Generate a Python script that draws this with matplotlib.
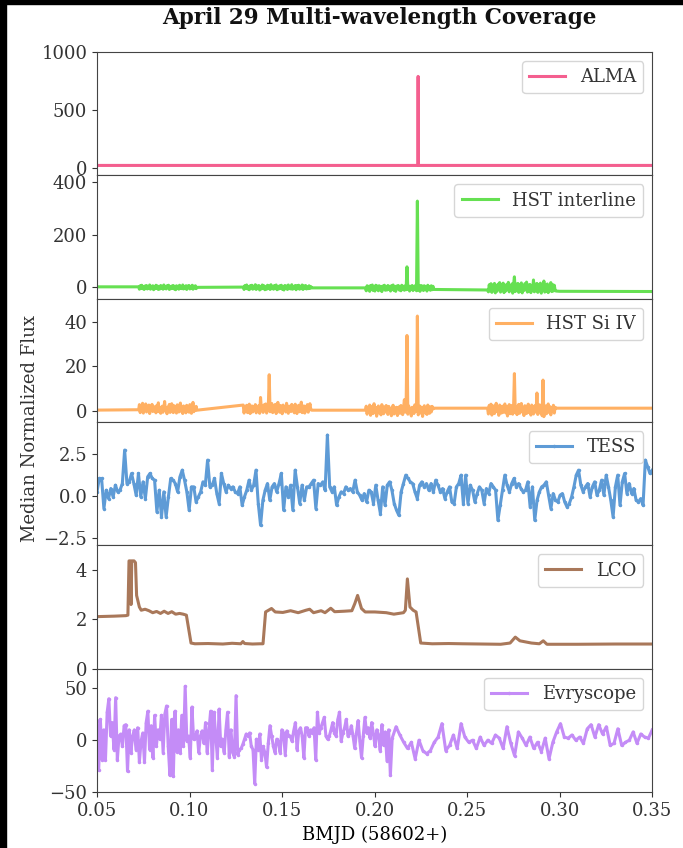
import numpy as np
import matplotlib
matplotlib.use('Agg')
import matplotlib.pyplot as plt
from matplotlib.patches import Rectangle

plt.rcParams['font.family'] = ['DejaVu Serif']
plt.rcParams['font.size'] = 13
plt.rcParams['text.color'] = '#333333'
plt.rcParams['xtick.color'] = '#333333'
plt.rcParams['ytick.color'] = '#333333'
plt.rcParams['axes.edgecolor'] = '#444444'

# ---- ALMA ----
alma_time = [0.04, 0.2234, 0.2235, 0.2236, 0.36]
alma_flux = [25, 25, 790, 25, 25]

# ---- HST observing windows (start, end) ----
hst_windows = [(0.0725, 0.104), (0.129, 0.166), (0.195, 0.232), (0.261, 0.298)]

# HST interline flux in each window
hst_int_1 = [2, -7, 6, -3, 8, -5, 1, -8, 5, -2, 7, -6, 3, -4, 9,
             -7, 4, -1, 6, -9, 2, -5, 8, -3, 5, -8, 1, -6, 7, -2,
             4, -7, 9, -4, 3, -6, 6, -1, 8, -8, 2, -5, 5, -3, 7,
             -6, 1, -9, 6, -2, 4, -7, 8, -4, 3, -5, 9, -6, 2, -3,
             6, -8, 5, -1, 7, -6, 3, -4, 8, -7, 4, -2, 6, -5, 0]
hst_int_2 = [1, -8, 7, -4, 9, -6, 3, -9, 6, -2, 8, -7, 4, -5, 10,
             -8, 5, -3, 7, -10, 2, -6, 9, -4, 6, -9, 1, -7, 8, -3,
             5, -8, 10, -5, 4, -7, 7, -2, 9, -9, 3, -6, 6, -4, 8,
             -7, 2, -10, 7, -3, 5, -8, 9, -5, 4, -6, 10, -7, 3, -4,
             7, -9, 6, -2, 8, -7, 4, -5, 9, -8, 5, -3, 7, -6, 1,
             -5, 6, -4, 3, -2]
hst_int_3 = [-2, -13, 6, -9, 4, -15, 7, -6, 9, -12, 2, -14, 8, -5, 5,
             -13, 6, -9, 3, -16, 5, -4, 8, -11, 1, -10, 7, -7, 4, -14,
             6, -8, 9, -12, 3, -15, 5, -3, 7, -10, 2, -13, 8, -6, 4,
             -11, 6, -9, 78, -7, 5, -14, 4, -8, 7, -12, 3, -6, 8, -13,
             328, -10, 4, -15, 7, -9, 5, -12, 6, -8, 3, -14, 8, -5, 2,
             -11, 6, -9, 4, -8]
hst_int_4 = [-10, -17, 10, -13, 14, -19, 8, -9, 15, -21, 6, -15, 12, -7, 18,
             -18, 9, -12, 16, -20, 5, -14, 11, -8, 19, -17, 7, -11, 13, -22,
             10, 40, -16, 12, -10, 15, -19, 8, -13, 17, -21, 6, -12, 14, -9,
             20, -18, 9, -14, 11, -20, 7, -10, 28, -17, 12, -13, 15, -19, 8,
             -11, 16, -22, 10, -8, 24, -18, 9, -15, 13, -20, 6, -12, 18, -16,
             11, -14, 8, -12, -14]
hst_int_edges = [(0.045, 2), (0.30, -15), (0.36, -16)]

# HST Si IV flux in each window
hst_si_1 = [0.5, 2.8, -0.8, 1.9, 0.2, 3.4, -1.0, 2.2, 0.6, 3.1, -0.5, 1.5, 0.1, 2.6, -1.2,
            1.8, 0.4, 2.9, -0.3, 2.0, 0.4, 1.2, -0.9, 2.4, 0.0, 3.6, -0.4, 1.6, -1.1, 0.8,
            2.1, -0.6, 1.3, 4.2, 0.2, 0.9, -1.3, 1.7, 0.3, 2.9, -0.7, 1.1, 3.2, 0.5, -0.8,
            2.3, 0.1, 1.4, -1.0, 2.7, 0.6, -0.5, 1.9, 3.5, -0.2, 1.0, -1.2, 2.2, 0.4, 1.6,
            -0.9, 2.5, 0.0, 1.3, -0.6, 2.8, 0.7, -1.1, 1.5, 3.8, -0.4, 1.2, 0.2, 2.0, 0.3]
hst_si_2 = [2.6, -1.0, 1.8, 0.3, 2.5, -0.8, 1.4, 3.0, -1.2, 0.9, 2.2, -0.5, 1.7, 0.2, 2.8,
            -0.9, 1.5, 0.4, 2.4, -1.1, 6.0, 0.6, 1.9, -0.7, 2.7, 0.1, 3.1, -1.0, 1.3, 2.3,
            16.2, -0.4, 1.0, 3.3, -0.8, 2.0, 0.5, 2.9, -1.2, 1.6, 3.8, 0.2, -0.6, 2.4, 1.1,
            -1.3, 2.6, 0.3, 1.8, -0.5, 3.4, 0.8, -1.1, 2.1, 1.2, -0.3, 2.9, 0.0, 1.5, -0.9,
            3.0, 0.6, -1.2, 1.9, 2.5, -0.4, 1.3, 3.9, -0.8, 0.9, 2.2, -1.0, 1.7, 0.4, 2.8,
            -0.6, 1.4, 3.2, 0.5, 0.3]
hst_si_3 = [0.3, 2.1, -1.5, 1.2, -0.4, 2.6, -2.0, 0.8, 1.9, -1.2, 3.2, -0.6, 1.5, -2.4, 0.9,
            2.2, -1.0, 1.4, -1.8, 2.8, 0.1, -1.3, 1.7, -0.5, 2.4, 0.6, -1.6, 2.0, -0.8, 1.1,
            -2.2, 0.7, 2.5, -1.4, 1.3, -0.9, 1.6, -2.1, 0.5, 1.8, -1.1, 2.4, 0.4, -1.7, 1.2,
            5.0, -0.6, 1.9, 33.8, -1.5, 2.2, -0.7, 1.0, -2.3, 1.6, 0.3, -1.2, 2.7, -0.4, 1.4,
            42.5, -1.8, 0.9, 2.1, -1.0, 1.5, -2.5, 0.6, 2.3, -0.9, 1.2, -1.6, 2.6, 0.2, -1.1,
            1.8, -0.5, 2.0, 0.8, 1.2]
hst_si_4 = [1.2, -1.4, 2.5, -0.6, 3.0, -1.9, 1.1, 2.2, -1.2, 0.8, 3.4, -0.4, 1.7, -2.0, 2.6,
            0.3, -1.0, 2.1, -0.7, 1.4, 3.1, -0.9, 1.9, -2.3, 0.6, 2.8, -1.3, 1.0, 2.4, -1.5,
            1.2, 16.7, -0.8, 2.0, -1.7, 1.5, 2.9, -1.1, 0.9, 3.3, -0.5, 1.6, -2.1, 2.3, 0.4,
            -1.2, 1.8, 3.0, -0.8, 1.1, -1.9, 2.6, 0.2, -1.4, 1.7, 2.4, -0.6, 8.0, -1.6, 1.3,
            2.7, -0.9, 1.0, -2.2, 13.8, -2.6, 1.4, 2.2, -1.3, 0.7, 3.1, -0.7, 1.9, -1.8, 1.5,
            0.3, 2.5, -1.0, 1.6, 1.2]
hst_si_edges = [(0.045, 0.3), (0.30, 1.2), (0.36, 1.2)]

# ---- TESS (2-min cadence, 0.05 - 0.35) ----
tess_flux = [0.26, 1.06, 1.06, -0.74, 0.36, -0.14, 0.46, -0.04, 0.66, 0.26, 0.36, 0.76, 2.76, 0.76,
             0.86, 1.36, 0.76, 0.06, 1.36, -0.04, 0.86, -0.14, 1.16, 1.36, 1.06, 0.96, -0.94, 0.36,
             -1.24, 0.26, -1.24, -0.04, 1.06, 0.96, 0.76, 0.26, 1.16, 1.56, 0.96, 0.26, -0.84, 0.56,
             0.56, -0.34, -0.04, 0.26, 0.86, 0.66, 2.16, 0.56, 0.66, 1.06, 0.16, -0.44, 1.36, 0.76,
             0.26, 0.66, 0.46, 0.56, 0.26, 0.16, 0.56, -0.54, -0.04, 0.36, 0.96, 0.36, 0.66, 1.56,
             -0.44, -1.74, -0.24, 0.36, 0.76, -0.24, 0.56, 0.76, 0.26, 0.76, 1.36, -0.84, 0.56, -0.04,
             0.66, -0.84, 1.56, 0.56, -0.44, 0.66, -0.24, 0.56, 0.56, 0.76, 0.96, -0.74, 0.76, 0.66,
             0.86, 0.36, 3.66, 0.56, 0.26, 0.56, -0.54, -0.04, 0.26, 0.16, 0.56, 0.36, 0.46, 0.26,
             0.96, 0.26, 0.06, -0.24, 0.16, -0.34, 0.36,
             0.26, -0.44, 0.66, -0.24, -1.04, 0.56, -0.54, 0.66, 0.86, 0.36, -0.44, -0.84, -1.14,
             0.26, 0.76, 1.26, 1.06, 0.86, 0.76, 0.26, -0.14, 0.66, 0.86, 0.56, 0.76, 0.36, 0.76,
             0.26, 0.96, 0.66, 0.26, 0.46, -0.14, 0.26, 0.56, -0.34, -0.44, 0.56, 0.76, 1.26, -0.44,
             1.26, -0.44, 0.66, 0.36, -0.34, 0.16, 0.56, 0.36, -0.44, 0.46, 0.16, 0.76, 0.56, 0.36,
             -1.44, -0.54, 0.36, 1.26, 0.66, 0.26, 0.76, 1.06, 0.56, 0.76, 0.46, 0.26, 0.36, 0.86,
             -0.64, 0.56, -1.44, -0.24, 0.26, 0.56, 0.66, 0.86, 0.06, -0.74, 0.16, -0.24, -0.34,
             0.06, 0.16, -0.34, -0.64, -0.44, -0.04, 0.56, 1.26, 1.56, 0.66, 0.26, 0.56, 0.76,
             -0.04, 0.56, 0.86, 0.06, 0.36, 0.96, 0.06, 1.26, 0.56, -0.24, -1.24, 0.56, 1.26, -0.54,
             0.86, 1.36, 0.16, 0.76, 0.16, 0.46, -0.24, -0.34, -0.14, -0.54, 2.16, 1.76, 1.36, 1.56]

# ---- LCO ----
lco_time = [0.045, 0.0594, 0.0656, 0.0667, 0.0673, 0.0680, 0.0684, 0.0688, 0.0700, 0.0708,
            0.0714, 0.0729, 0.0739, 0.0760, 0.0781, 0.0801, 0.0822, 0.0843, 0.0863, 0.0884,
            0.0904, 0.0925, 0.0946, 0.0966, 0.0983, 0.1008, 0.1029, 0.1100, 0.1180, 0.1230,
            0.1277, 0.1288, 0.1298, 0.1340, 0.1381, 0.1397, 0.1411, 0.1443, 0.1463, 0.1504,
            0.1546, 0.1587, 0.1629, 0.1649, 0.1670, 0.1711, 0.1732, 0.1763, 0.1784, 0.1836,
            0.1877, 0.1893, 0.1908, 0.1929, 0.1949, 0.2001, 0.2063, 0.2104, 0.2156, 0.2166,
            0.2177, 0.2191, 0.2208, 0.2224, 0.2249, 0.2311, 0.2400, 0.2474, 0.2580, 0.2681,
            0.2732, 0.2760, 0.2785, 0.2847, 0.2890, 0.2911, 0.2931, 0.3097, 0.3300, 0.3600]
lco_flux = [2.10, 2.13, 2.15, 2.17, 4.37, 4.37, 2.60, 4.37, 4.37, 4.30,
            2.97, 2.50, 2.37, 2.41, 2.35, 2.27, 2.32, 2.24, 2.33, 2.24,
            2.31, 2.21, 2.24, 2.21, 2.17, 1.04, 1.01, 1.02, 1.00, 1.03,
            1.01, 1.10, 1.02, 1.00, 1.01, 1.01, 2.30, 2.44, 2.30, 2.28,
            2.35, 2.27, 2.37, 2.41, 2.27, 2.35, 2.27, 2.45, 2.31, 2.33,
            2.35, 2.64, 2.97, 2.44, 2.30, 2.30, 2.27, 2.21, 2.27, 2.37,
            3.64, 2.50, 2.37, 2.30, 1.04, 1.01, 1.02, 1.01, 1.00, 0.99,
            1.04, 1.28, 1.13, 1.04, 1.01, 1.13, 0.99, 0.99, 1.00, 1.00]

# ---- Evryscope ----
evry_flux_a = [19, -29, 20, -19, 10, -19, 27, 40, 4, 17, -9, 41, -19, 4, 6, -6, 14, 15, -30, 10,
               -12, 4, 10, -9, 12, -21, -1, 7, -21, 17, 28, -9, 14, -17, 24, -6, 10, 1, 24, -12,
               25, 33, -6, -34, 20, -35, 28, -11, 10, -12, 24, -6, 52, -1, 4, -17, 32, 1, 2, 9,
               -12, 4, 9, -3, 17, -12, 9, 28, -29, 27, 4, -17, 30, -6, 1, -12, 10, 27, -16, 10,
               -12, -16, 43, -14, -9, -8, -4, 1, 6, 4, 7, -6, -9, -42, 1, -9, 6, -19, -6, -12,
               -26, -3, 14, 4, -6, -12, 1, -1, -12, 10, 7, -14, 9, 4, 4, -1, 9, 17, -9, 9,
               12, 4, -17, 12, 12, 4, 10, 7, 12, -19, 27, 7, 12, 17, 22, 4, 1, 4, 10, 17,
               7, 4, 20, 27, -1, 7, 12, 20, 4, 7, 14, 4, -8, 7, 19, -1, -17, 4, 22, 7,
               12, 2, 17, 6, -6, 10, 5, -10, 15, -5, 8, -20, 10, -34]
evry_flux_b = [2, 13, 5, -2, -8, -2, -18, 0, -10, -13, -10, -2, 3, 16, -10, -5, 5, -8, 16, 3,
               -2, 0, -8, 3, -5, 0, -3, 5, 2, -8, 13, -3, -15, 8, 2, -5, 3, -8, -2, -11,
               2, -18, -2, 8, 16, 3, 2, 5, 0, 3, -3, 11, 15, 3, 15, 6, 13, -5, -3, 11,
               -5, -2, 0, 8, -3, 6, 3, 2, 10]

colors = {'ALMA': '#f45f8f', 'HST interline': '#66e052', 'HST Si IV': '#ffb063',
          'TESS': '#5e9bd6', 'LCO': '#a9785a', 'Evryscope': '#c48cf7'}


def hst_series(blocks, edges):
    t = [edges[0][0]]
    f = [edges[0][1]]
    for (t0, t1), vals in zip(hst_windows, blocks):
        t.extend(np.linspace(t0, t1, len(vals)))
        f.extend(vals)
    for e in edges[1:]:
        t.append(e[0])
        f.append(e[1])
    return t, f


hst_int_time, hst_int_flux = hst_series([hst_int_1, hst_int_2, hst_int_3, hst_int_4], hst_int_edges)
hst_si_time, hst_si_flux = hst_series([hst_si_1, hst_si_2, hst_si_3, hst_si_4], hst_si_edges)
tess_time = np.linspace(0.05, 0.35, len(tess_flux))
evry_time = np.concatenate([np.linspace(0.05, 0.2085, len(evry_flux_a)),
                            np.linspace(0.2095, 0.35, len(evry_flux_b))])
evry_flux = evry_flux_a + evry_flux_b

fig, axes = plt.subplots(6, 1, sharex=True, figsize=(6.83, 8.48), dpi=100)
fig.subplots_adjust(left=0.142, right=0.955, top=0.9387, bottom=0.066, hspace=0)

panels = [
    ('ALMA', alma_time, alma_flux, (-60, 1000), [0, 500, 1000], None),
    ('HST interline', hst_int_time, hst_int_flux, (-43, 426), [0, 200, 400], None),
    ('HST Si IV', hst_si_time, hst_si_flux, (-5, 50.3), [0, 20, 40], None),
    ('TESS', tess_time, tess_flux, (-2.94, 4.44), [-2.5, 0.0, 2.5], '.'),
    ('LCO', lco_time, lco_flux, (0, 5), [0, 2, 4], None),
    ('Evryscope', evry_time, evry_flux, (-50, 69), [-50, 0, 50], '.'),
]

for ax, (name, t, f, ylim, yt, mk) in zip(axes, panels):
    ax.plot(t, f, color=colors[name], lw=2.2, label=name, marker=mk, markersize=3)
    ax.set_ylim(*ylim)
    ax.set_yticks(yt)
    ax.legend(loc='upper right', fontsize=13)
    ax.tick_params(axis='x', bottom=False)

axes[-1].tick_params(axis='x', bottom=True)
axes[-1].set_xlim(0.05, 0.35)
axes[-1].set_xticks([0.05, 0.10, 0.15, 0.20, 0.25, 0.30, 0.35])
axes[-1].set_xlabel('BMJD (58602+)')

fig.text(0.556, 0.979, 'April 29 Multi-wavelength Coverage', ha='center', va='center',
         fontsize=15.5, fontweight='bold', color='#111111')
fig.text(0.044, 0.495, 'Median Normalized Flux', rotation=90, ha='center', va='center')

# dark screenshot edges
fig.patches.append(Rectangle((0, 0), 6 / 683, 1, transform=fig.transFigure, color='black'))
fig.patches.append(Rectangle((0, 1 - 4 / 848), 1, 4 / 848, transform=fig.transFigure, color='black'))

fig.savefig('out.png', dpi=100)
